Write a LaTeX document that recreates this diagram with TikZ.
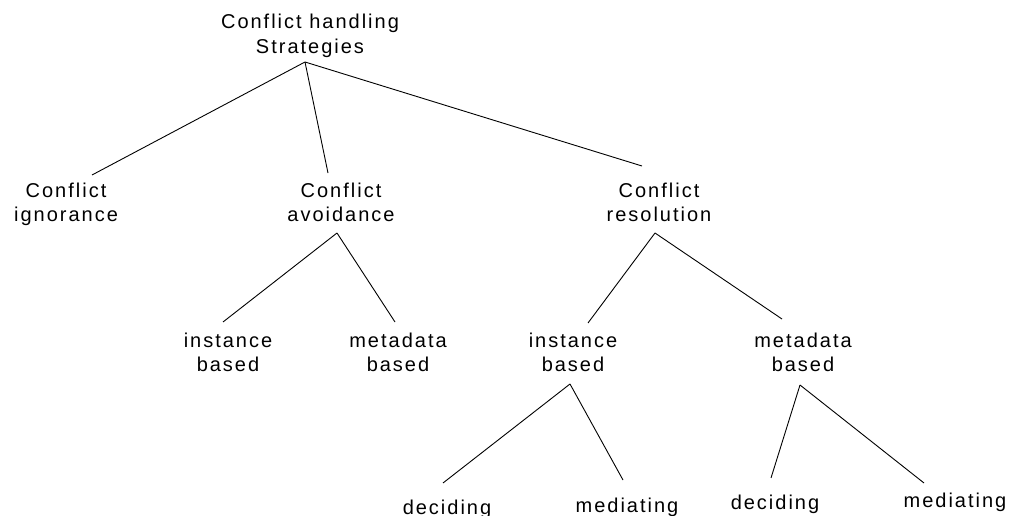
\documentclass[tikz,border=0pt]{standalone}
\usepackage{fontspec}
\setmainfont{Liberation Sans}
\newfontfamily\lblfont[LetterSpace=10]{Liberation Sans}
\begin{document}
\begin{tikzpicture}[x=1pt,y=-1pt,
  lbl/.style={font=\lblfont\fontsize{20}{24.5}\selectfont, align=center, inner sep=0pt, anchor=base},
  edge/.style={line width=0.9pt, draw=black}]
\useasboundingbox (0,0) rectangle (1013,516);
\clip (0,0) rectangle (1013,516);
% labels (base anchor = baseline of the last line)
\node[lbl] (root) at (310,53.5) {Conflict handling\\Strategies};
\node[lbl] (ign) at (66,221.5) {Conflict\\ignorance};
\node[lbl] (avo) at (341,221.5) {Conflict\\avoidance};
\node[lbl] (res) at (659,221.5) {Conflict\\resolution};
\node[lbl] (avoinst) at (228,371.5) {instance\\based};
\node[lbl] (avometa) at (398,371.5) {metadata\\based};
\node[lbl] (resinst) at (573,371.5) {instance\\based};
\node[lbl] (resmeta) at (803,371.5) {metadata\\based};
\node[lbl] (dec1) at (447,514) {deciding};
\node[lbl] (med1) at (627,512) {mediating};
\node[lbl] (dec2) at (775,509) {deciding};
\node[lbl] (med2) at (955,507) {mediating};
% connector end points
\coordinate (rootB) at (305,62);
\coordinate (ignT) at (92,175);
\coordinate (avoT) at (328,173);
\coordinate (resT) at (642,166);
\coordinate (avoB) at (337,233);
\coordinate (avoinstT) at (223,322);
\coordinate (avometaT) at (395,322);
\coordinate (resB) at (655,233);
\coordinate (resinstT) at (588,323);
\coordinate (resmetaT) at (782,319);
\coordinate (resinstB) at (570,384);
\coordinate (dec1T) at (443,483);
\coordinate (med1T) at (623,480);
\coordinate (resmetaB) at (800,385);
\coordinate (dec2T) at (771,478);
\coordinate (med2T) at (924,483);
% connectors
\draw[edge] (rootB) -- (ignT);
\draw[edge] (rootB) -- (avoT);
\draw[edge] (rootB) -- (resT);
\draw[edge] (avoB) -- (avoinstT);
\draw[edge] (avoB) -- (avometaT);
\draw[edge] (resB) -- (resinstT);
\draw[edge] (resB) -- (resmetaT);
\draw[edge] (resinstB) -- (dec1T);
\draw[edge] (resinstB) -- (med1T);
\draw[edge] (resmetaB) -- (dec2T);
\draw[edge] (resmetaB) -- (med2T);
\end{tikzpicture}
\end{document}
